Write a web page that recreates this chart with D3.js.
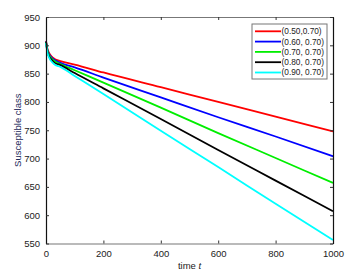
<!DOCTYPE html>
<html>
<head>
<meta charset="utf-8">
<script src="https://cdn.jsdelivr.net/npm/d3@7"></script>
<style>
  body { margin: 0; background: #fff; }
  text { font-family: "Liberation Sans", Arial, sans-serif; fill: #222; }
</style>
</head>
<body>
<script>
// Time points and susceptible counts for each parameter pair
const times = [0, 5, 10, 20, 30, 50, 100, 200, 400, 600, 800, 1000];
const seriesNames = ["(0.50,0.70)", "(0.60, 0.70)", "(0.70, 0.70)", "(0.80, 0.70)", "(0.90, 0.70)"];
const seriesColors = ["#ff0000", "#0000ff", "#00ee00", "#000000", "#00ffff"];
const red   = [908, 894, 887, 880, 876, 872, 866, 852, 826, 800, 774, 748];
const blue  = [907, 892, 885, 878, 874, 869, 861, 843, 808, 773, 739, 704];
const green = [906, 891, 883, 876, 872, 867, 856, 834, 790, 745, 701, 657];
const black = [905, 889, 881, 874, 869, 865, 851, 824, 770, 715, 661, 607];
const cyan  = [904, 887, 879, 871, 866, 862, 846, 814, 749, 685, 620, 556];
const seriesValues = [red, blue, green, black, cyan];
const xTicks = [0, 200, 400, 600, 800, 1000];
const yTicks = [550, 600, 650, 700, 750, 800, 850, 900, 950];

const W = 362, H = 276;
const margin = { top: 17, right: 29, bottom: 32.5, left: 46 },
    width = W - margin.left - margin.right,
    height = H - margin.top - margin.bottom;

const svg = d3.select("body").append("svg")
    .attr("width", W)
    .attr("height", H);

const g = svg.append("g")
    .attr("transform", `translate(${margin.left},${margin.top})`);

const x = d3.scaleLinear().domain([0, 1000]).range([0, width]);
const y = d3.scaleLinear().domain([550, 950]).range([height, 0]);

// Curves
const line = d3.line()
    .x((d, i) => x(times[i]))
    .y(d => y(d))
    .curve(d3.curveMonotoneX);

seriesValues.forEach((vals, i) => {
    g.append("path")
        .datum(vals)
        .attr("fill", "none")
        .attr("stroke", seriesColors[i])
        .attr("stroke-width", 1.8)
        .attr("d", line);
});

// Axes (MATLAB style, ticks pointing inward, box all round)
function styleAxis(sel, color) {
    sel.select(".domain").attr("stroke", color).attr("stroke-width", 1.2);
    sel.selectAll(".tick line").attr("stroke", "#333");
    sel.selectAll(".tick text").style("font-size", "9.5px").attr("fill", "#222");
}

const xAxis = g.append("g")
    .attr("transform", `translate(0,${height})`)
    .call(d3.axisBottom(x).tickValues(xTicks).tickFormat(d3.format("d"))
        .tickSizeInner(-3).tickSizeOuter(0).tickPadding(7));
styleAxis(xAxis, "#777");

const xAxisTop = g.append("g")
    .call(d3.axisTop(x).tickValues(xTicks).tickSizeInner(-3).tickSizeOuter(0).tickFormat(""));
styleAxis(xAxisTop, "#777");

const yAxis = g.append("g")
    .call(d3.axisLeft(y).tickValues(yTicks).tickFormat(d3.format("d"))
        .tickSizeInner(-3).tickSizeOuter(0).tickPadding(6));
styleAxis(yAxis, "#111");

const yAxisRight = g.append("g")
    .attr("transform", `translate(${width},0)`)
    .call(d3.axisRight(y).tickValues(yTicks).tickSizeInner(-3).tickSizeOuter(0).tickFormat(""));
styleAxis(yAxisRight, "#111");

// Axis titles
const xt = svg.append("text")
    .attr("x", margin.left + width / 2)
    .attr("y", 269)
    .attr("text-anchor", "middle")
    .style("font-size", "9.5px");
xt.append("tspan").text("time ");
xt.append("tspan").style("font-style", "italic").text("t");

svg.append("text")
    .attr("transform", `translate(21,${margin.top + height / 2}) rotate(-90)`)
    .attr("text-anchor", "middle")
    .style("font-size", "9.5px")
    .style("fill", "#1c2a5a")
    .text("Susceptible class");

// Legend
const legend = svg.append("g").attr("transform", "translate(252,24)");
legend.append("rect")
    .attr("width", 75)
    .attr("height", 55)
    .attr("fill", "#fff")
    .attr("stroke", "#777")
    .attr("stroke-width", 1);

seriesNames.forEach((name, i) => {
    const row = legend.append("g").attr("transform", `translate(0,${7.3 + i * 10.3})`);
    row.append("line")
        .attr("x1", 3).attr("x2", 29)
        .attr("stroke", seriesColors[i])
        .attr("stroke-width", 1.8);
    row.append("text")
        .attr("x", 29.5)
        .attr("dy", "0.35em")
        .style("font-size", "8.3px")
        .text(name);
});
</script>
</body>
</html>
